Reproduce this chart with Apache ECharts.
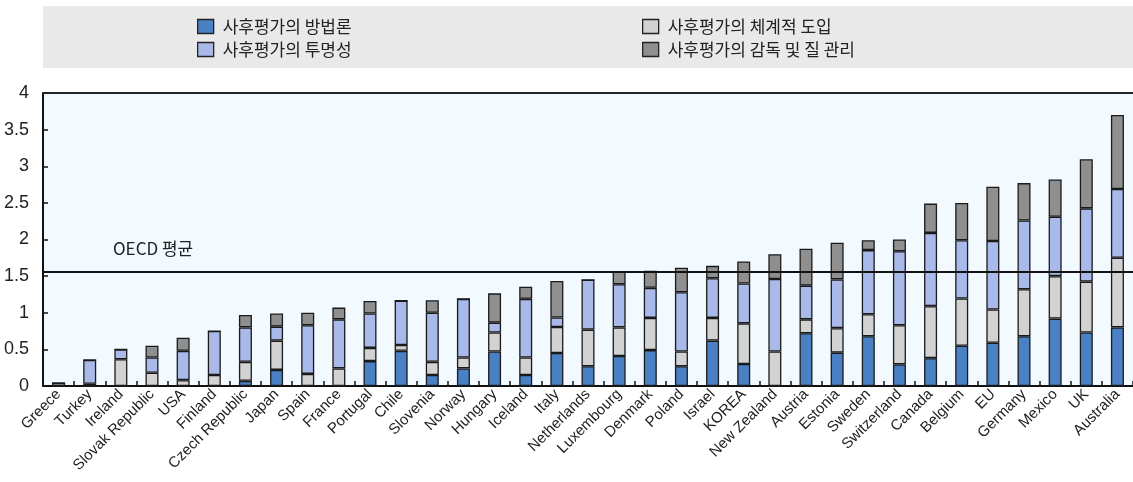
<!DOCTYPE html>
<html>
<head>
<meta charset="utf-8">
<script src="https://cdn.jsdelivr.net/npm/echarts@6/dist/echarts.min.js"></script>
<style>
  html, body { margin: 0; padding: 0; background: #fff; }
  #chart { width: 1133px; height: 482px; }
</style>
</head>
<body>
<div id="chart"></div>
<script>
// 국가 (정렬된 순서)
const countries = ['Greece', 'Turkey', 'Ireland', 'Slovak Republic', 'USA', 'Finland', 'Czech Republic', 'Japan', 'Spain', 'France',
  'Portugal', 'Chile', 'Slovenia', 'Norway', 'Hungary', 'Iceland', 'Italy', 'Netherlands', 'Luxembourg', 'Denmark',
  'Poland', 'Israel', 'KOREA', 'New Zealand', 'Austria', 'Estonia', 'Sweden', 'Switzerland', 'Canada', 'Belgium',
  'EU', 'Germany', 'Mexico', 'UK', 'Australia']

// 사후평가의 방법론
const methodology = [0, 0, 0, 0, 0, 0, 0.07, 0.22, 0, 0,
  0.34, 0.48, 0.15, 0.24, 0.47, 0.15, 0.45, 0.27, 0.41, 0.49,
  0.27, 0.62, 0.30, 0, 0.72, 0.455, 0.68, 0.295, 0.38, 0.55,
  0.59, 0.68, 0.92, 0.73, 0.80]
// 사후평가의 체계적 도입
const systematic = [0.04, 0.03, 0.365, 0.18, 0.08, 0.15, 0.26, 0.40, 0.165, 0.24,
  0.18, 0.08, 0.18, 0.15, 0.26, 0.24, 0.355, 0.50, 0.39, 0.44,
  0.20, 0.31, 0.555, 0.47, 0.19, 0.335, 0.30, 0.535, 0.71, 0.645,
  0.455, 0.64, 0.58, 0.695, 0.95]
// 사후평가의 투명성
const transparency = [0, 0.325, 0.135, 0.21, 0.40, 0.60, 0.47, 0.19, 0.665, 0.67,
  0.47, 0.605, 0.67, 0.80, 0.135, 0.80, 0.13, 0.68, 0.59, 0.41,
  0.81, 0.54, 0.545, 0.99, 0.46, 0.665, 0.875, 1.01, 1.00, 0.795,
  0.935, 0.94, 0.81, 1.00, 0.94]
// 사후평가의 감독 및 질 관리
const oversight = [0, 0, 0, 0.16, 0.18, 0, 0.17, 0.18, 0.17, 0.16,
  0.17, 0, 0.17, 0, 0.40, 0.165, 0.50, 0, 0.17, 0.235,
  0.335, 0.17, 0.30, 0.34, 0.505, 0.50, 0.135, 0.16, 0.40, 0.51,
  0.74, 0.51, 0.51, 0.67, 1.01]

const oecdAverage = 1.56
const yTicks = { min: 0, max: 4, interval: 0.5 }

const names = ['사후평가의 방법론', '사후평가의 체계적 도입', '사후평가의 투명성', '사후평가의 감독 및 질 관리']
const colors = ['#4a80c4', '#d2d2d2', '#a9b9e9', '#8f8f8f']
const values = [methodology, systematic, transparency, oversight]

const chart = echarts.init(document.getElementById('chart'))

const series = names.map((name, i) => ({
  name: name,
  type: 'bar',
  stack: 'total',
  barWidth: 13,
  data: values[i],
  itemStyle: {
    color: colors[i],
    borderColor: '#1a1a1a',
    borderWidth: 1.3
  }
}))

// OECD 평균선
series[0].markLine = {
  silent: true,
  symbol: 'none',
  lineStyle: { color: '#111', width: 2, type: 'solid' },
  label: { show: false },
  data: [{ yAxis: oecdAverage }]
}

const legendBase = {
  orient: 'vertical',
  top: 13,
  icon: 'rect',
  itemWidth: 16,
  itemHeight: 14,
  itemGap: 6,
  selectedMode: false,
  textStyle: { fontFamily: 'Noto Sans CJK KR', fontSize: 17, color: '#222', padding: [0, 0, 0, 4] },
  itemStyle: { borderColor: '#222', borderWidth: 1.3 }
}

const option = {
  backgroundColor: '#fff',
  animation: false,
  color: colors,
  graphic: [
    { type: 'rect', left: 43, top: 6, shape: { width: 1090, height: 62 }, style: { fill: '#e9e9e9' }, z: -10 },
    { type: 'text', left: 113, top: 240, style: { text: 'OECD 평균', fontFamily: 'Noto Sans CJK KR', fontSize: 17, fill: '#222' } }
  ],
  legend: [
    Object.assign({}, legendBase, { left: 192, data: [names[0], names[2]] }),
    Object.assign({}, legendBase, { left: 637, data: [names[1], names[3]] })
  ],
  grid: { left: 43, right: 0, top: 93, bottom: 96, backgroundColor: '#f2faff', show: true, borderWidth: 0 },
  xAxis: {
    type: 'category',
    data: countries,
    axisLine: { lineStyle: { color: '#111', width: 2 } },
    axisTick: { show: true, inside: true, length: 5, lineStyle: { color: '#111', width: 1.5 } },
    axisLabel: {
      interval: 0,
      rotate: 45,
      margin: 6,
      fontFamily: 'Liberation Sans',
      fontSize: 15,
      color: '#222'
    }
  },
  yAxis: {
    type: 'value',
    min: yTicks.min,
    max: yTicks.max,
    interval: yTicks.interval,
    axisLine: { show: true, lineStyle: { color: '#111', width: 2 } },
    axisTick: { show: true, inside: true, length: 5, lineStyle: { color: '#111', width: 1.5 } },
    splitLine: { show: false },
    axisLabel: {
      margin: 14,
      fontFamily: 'Liberation Sans',
      fontSize: 18,
      color: '#222'
    }
  },
  series: series.concat([{
    // 상단 테두리선
    type: 'line',
    data: [],
    markLine: {
      silent: true,
      symbol: 'none',
      label: { show: false },
      lineStyle: { color: '#222', width: 2, type: 'solid' },
      data: [{ yAxis: yTicks.max }]
    }
  }])
}

chart.setOption(option)
</script>
</body>
</html>
